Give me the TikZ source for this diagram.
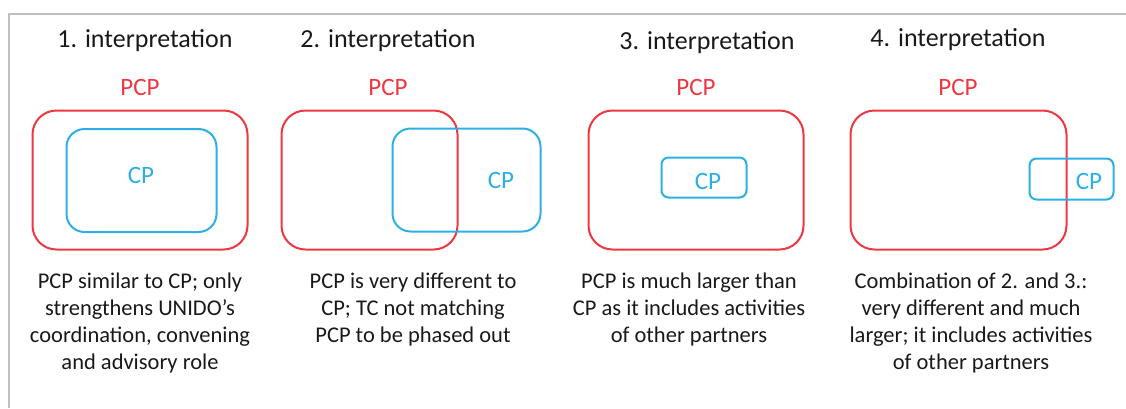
\documentclass[tikz,border=0pt]{standalone}
\usepackage{fontspec}
\setmainfont{Carlito}
\definecolor{pcpred}{RGB}{238,55,65}
\definecolor{cpblue}{RGB}{45,175,230}
\definecolor{framegray}{RGB}{192,192,192}
\definecolor{txt}{RGB}{25,25,25}
\begin{document}
\begin{tikzpicture}[x=1pt,y=-1pt,
  pcpbox/.style={draw=pcpred, line width=2pt, rounded corners=24pt, inner sep=0pt, minimum height=139pt},
  cpbox/.style={draw=cpblue, line width=2pt, inner sep=0pt},
  head/.style={font=\fontsize{26}{30}\selectfont, text=txt, inner sep=0pt},
  pcplabel/.style={font=\fontsize{25}{30}\selectfont, text=pcpred, inner sep=0pt},
  cplabel/.style={font=\fontsize{25}{30}\selectfont, text=cpblue, inner sep=0pt},
  desc/.style={font=\fontsize{22.5}{27}\selectfont, text=txt, align=center, inner sep=0pt, anchor=north},
  frameline/.style={draw=framegray, line width=2pt}]
\useasboundingbox (0,0) rectangle (1126,408);
% frame
\coordinate (fr) at (1126,14);
\coordinate (ftl) at (9,14);
\coordinate (fb) at (9,408);
\draw[frameline] (fr) -- (ftl) -- (fb);
% headings
\node[head] (h1) at (145,41) {1. interpretation};
\node[head] (h2) at (388,41) {2. interpretation};
\node[head] (h3) at (707,43) {3. interpretation};
\node[head] (h4) at (958,40) {4. interpretation};
% PCP labels
\node[pcplabel] (p1) at (140,87) {PCP};
\node[pcplabel] (p2) at (388,87) {PCP};
\node[pcplabel] (p3) at (696,87) {PCP};
\node[pcplabel] (p4) at (958,87) {PCP};
% red boxes
\node[pcpbox, minimum width=215pt] (r1) at (140,180) {};
\node[pcpbox, minimum width=176pt] (r2) at (369.5,180) {};
\node[pcpbox, minimum width=215pt] (r3) at (696,180) {};
\node[pcpbox, minimum width=216pt] (r4) at (958.5,180) {};
% blue boxes
\node[cpbox, rounded corners=18pt, minimum width=150pt, minimum height=103pt] (b1) at (141.5,180.5) {};
\node[cpbox, rounded corners=18pt, minimum width=148pt, minimum height=103pt] (b2) at (466.5,180) {};
\node[cpbox, rounded corners=7pt, minimum width=85pt, minimum height=40pt] (b3) at (704,177.5) {};
\node[cpbox, rounded corners=7pt, minimum width=84pt, minimum height=41pt] (b4) at (1071.5,179) {};
% CP labels
\node[cplabel] (c1) at (141,175) {CP};
\node[cplabel] (c2) at (501,180) {CP};
\node[cplabel] (c3) at (708,181) {CP};
\node[cplabel] (c4) at (1089,181) {CP};
% descriptions
\node[desc] (d1) at (140,273) {PCP similar to CP; only\\strengthens UNIDO’s\\coordination, convening\\and advisory role};
\node[desc] (d2) at (413,273) {PCP is very different to\\CP; TC not matching\\PCP to be phased out};
\node[desc] (d3) at (689,273) {PCP is much larger than\\CP as it includes activities\\of other partners};
\node[desc] (d4) at (971,273) {Combination of 2. and 3.:\\very different and much\\larger; it includes activities\\of other partners};
\end{tikzpicture}
\end{document}
